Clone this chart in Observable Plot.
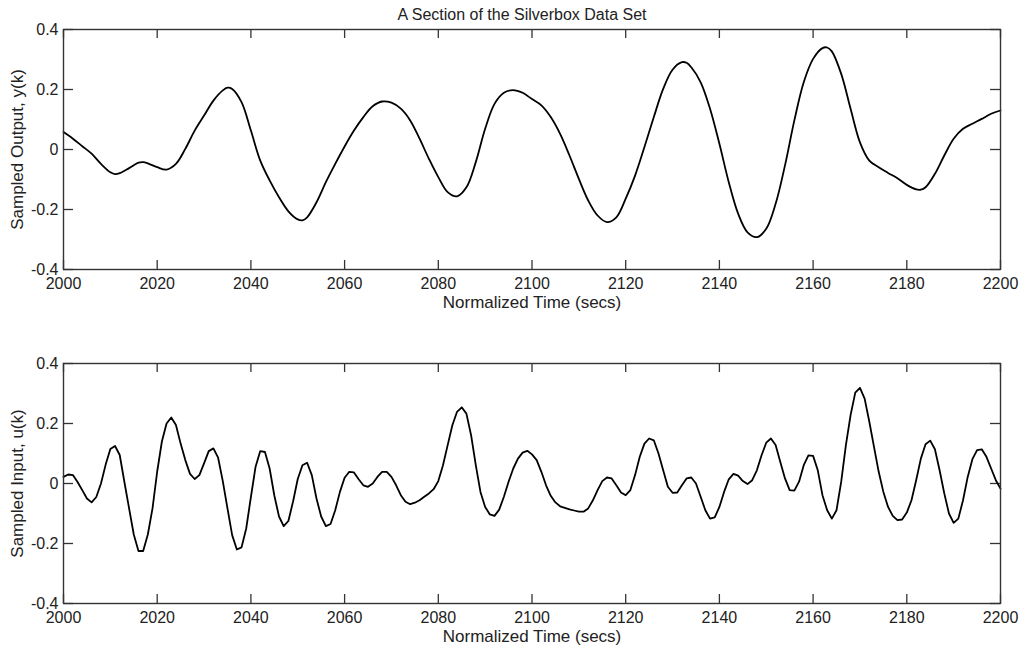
<!DOCTYPE html>
<html>
<head>
<meta charset="utf-8">
<script src="https://cdn.jsdelivr.net/npm/d3@7"></script>
<script src="https://cdn.jsdelivr.net/npm/@observablehq/plot@0.6"></script>
<style>
  html, body { margin: 0; padding: 0; background: #fff; }
  #wrap { position: relative; width: 1023px; height: 647px; overflow: hidden; font-family: "Liberation Sans", Arial, Helvetica, sans-serif; }
  #title { position: absolute; top: 4px; left: 222px; width: 600px; text-align: center; font-size: 16px; line-height: 22px; color: #222; }
  #top, #bottom { position: absolute; left: 0; }
  #top { top: 0; }
  #bottom { top: 345px; }
</style>
</head>
<body>
<div id="wrap">
  <div id="title"></div>
  <div id="top"></div>
  <div id="bottom"></div>
</div>
<script>
// ---- Data ----
const titleText = "A Section of the Silverbox Data Set";
const xLabel = "Normalized Time (secs)";
const yLabelTop = "Sampled Output, y(k)";
const yLabelBottom = "Sampled Input, u(k)";

const xTicks = [2000, 2020, 2040, 2060, 2080, 2100, 2120, 2140, 2160, 2180, 2200];
const yTicks = [-0.4, -0.2, 0, 0.2, 0.4];
const yTickLabels = ["-0.4", "-0.2", "0", "0.2", "0.4"];

// Output y(k) (smooth curve)
const outT = [2000,2002,2004,2006,2008,2010,2011,2012,2014,2016,2017,2018,2020,2022,2024,2026,2028,2030,2032,2034,2035,2036,2038,2040,
  2042,2044,2046,2048,2050,2051,2052,2054,2056,2058,2060,2062,2064,2066,2068,2070,2072,2074,2076,2078,2080,2082,2084,2086,2088,2090,
  2092,2094,2096,2098,2100,2102,2104,2106,2108,2110,2112,2114,2116,2118,2120,2122,2124,2126,2128,2130,2132,2133,2134,2136,2138,2140,
  2142,2144,2146,2148,2150,2152,2154,2156,2158,2160,2162,2163,2164,2166,2168,2170,2172,2174,2176,2178,2180,2182,2183,2184,2186,2188,
  2190,2192,2194,2196,2198,2200];
const outY = [0.058,0.036,0.011,-0.014,-0.048,-0.076,-0.082,-0.079,-0.062,-0.044,-0.042,-0.046,-0.059,-0.067,-0.048,0.002,0.063,0.113,0.163,0.197,0.206,0.202,0.158,0.063,
  -0.037,-0.103,-0.159,-0.206,-0.233,-0.236,-0.226,-0.176,-0.109,-0.048,0.010,0.063,0.108,0.144,0.160,0.156,0.136,0.097,0.036,-0.031,-0.092,-0.142,-0.156,-0.126,-0.042,0.069,
  0.152,0.189,0.198,0.189,0.168,0.147,0.108,0.052,-0.020,-0.098,-0.170,-0.220,-0.242,-0.226,-0.164,-0.087,0.008,0.108,0.202,0.266,0.291,0.289,0.274,0.224,0.136,0.019,
  -0.109,-0.214,-0.276,-0.292,-0.264,-0.181,-0.053,0.097,0.224,0.302,0.338,0.340,0.327,0.252,0.136,0.024,-0.037,-0.059,-0.078,-0.096,-0.118,-0.133,-0.134,-0.126,-0.081,-0.020,
  0.036,0.069,0.086,0.102,0.119,0.130];

// Input u(k), one sample per second from 2000 to 2200
const inStart = 2000;
const inU = [
  0.022, 0.030, 0.028, 0.005,-0.022,-0.050,-0.063,-0.045, 0.000, 0.063,
  0.115, 0.125, 0.095, 0.005,-0.083,-0.170,-0.225,-0.225,-0.170,-0.083,
  0.040, 0.140, 0.200, 0.220, 0.195, 0.133, 0.078, 0.032, 0.015, 0.028,
  0.067, 0.108, 0.117, 0.086, 0.008,-0.083,-0.172,-0.220,-0.213,-0.150,
 -0.045, 0.056, 0.108, 0.105, 0.050,-0.040,-0.110,-0.142,-0.125,-0.060,
  0.015, 0.061, 0.069, 0.028,-0.050,-0.110,-0.142,-0.135,-0.089,-0.028,
  0.019, 0.039, 0.037, 0.014,-0.006,-0.011, 0.000, 0.022, 0.039, 0.039,
  0.022,-0.006,-0.039,-0.061,-0.069,-0.064,-0.056,-0.044,-0.033,-0.019,
  0.008, 0.061, 0.128, 0.194, 0.239, 0.254, 0.233, 0.161, 0.061,-0.028,
 -0.078,-0.103,-0.108,-0.087,-0.044, 0.006, 0.050, 0.083, 0.103, 0.109,
  0.097, 0.078, 0.039,-0.006,-0.041,-0.063,-0.076,-0.081,-0.086,-0.090,
 -0.094,-0.094,-0.083,-0.056,-0.022, 0.008, 0.020, 0.017,-0.006,-0.030,
 -0.039,-0.022, 0.028, 0.089, 0.133, 0.150, 0.144, 0.100, 0.044,-0.011,
 -0.031,-0.030,-0.006, 0.017, 0.020, 0.000,-0.044,-0.089,-0.117,-0.113,
 -0.078,-0.028, 0.014, 0.032, 0.026, 0.008,-0.002, 0.011, 0.044, 0.094,
  0.136, 0.150, 0.128, 0.072, 0.017,-0.022,-0.024, 0.006, 0.061, 0.094,
  0.092, 0.044,-0.039,-0.089,-0.117,-0.089, 0.006, 0.128, 0.228, 0.303,
  0.319, 0.283, 0.206, 0.122, 0.039,-0.028,-0.078,-0.108,-0.122,-0.120,
 -0.097,-0.056, 0.011, 0.083, 0.131, 0.143, 0.114, 0.044,-0.033,-0.100,
 -0.131,-0.117,-0.056, 0.022, 0.081, 0.111, 0.114, 0.089, 0.050, 0.011,
 -0.017
];

// ---- Build ----
document.getElementById("title").textContent = titleText;
const outData = outT.map((t, i) => ({t, v: outY[i]}));
const inData = inU.map((v, i) => ({t: inStart + i, v}));
const yFmt = d => yTickLabels[yTicks.findIndex(y => Math.abs(y - d) < 1e-9)];

function panel(data, yLabel, curve, opts) {
  const W = 1023, mL = 63, mR = 23;
  const plotH = opts.height - opts.marginTop - opts.marginBottom;
  const plotW = W - mL - mR;
  return Plot.plot({
    width: W,
    height: opts.height,
    marginLeft: mL,
    marginRight: mR,
    marginTop: opts.marginTop,
    marginBottom: opts.marginBottom,
    style: {fontFamily: "'Liberation Sans', Arial, Helvetica, sans-serif", fontSize: "16px", color: "#222", background: "transparent", overflow: "visible"},
    x: {domain: [2000, 2200]},
    y: {domain: [-0.4, 0.4]},
    marks: [
      Plot.axisX({ticks: xTicks, tickSize: 0, tickPadding: 8, tickFormat: d => String(d), label: null, fontSize: 16}),
      Plot.axisY({ticks: yTicks, tickSize: 0, tickPadding: 5, tickFormat: yFmt, label: null, fontSize: 16}),
      Plot.tickX(xTicks, {x: d => d, insetTop: plotH - 9, stroke: "#333", strokeWidth: 1.3}),
      Plot.tickX(xTicks, {x: d => d, insetBottom: plotH - 9, stroke: "#333", strokeWidth: 1.3}),
      Plot.tickY(yTicks, {y: d => d, insetRight: plotW - 10, stroke: "#333", strokeWidth: 1.3}),
      Plot.tickY(yTicks, {y: d => d, insetLeft: plotW - 10, stroke: "#333", strokeWidth: 1.3}),
      Plot.lineY(data, {x: "t", y: "v", stroke: "#000", strokeWidth: 1.8, curve}),
      Plot.frame({stroke: "#333", strokeWidth: 1.4}),
      Plot.text([xLabel], {frameAnchor: "bottom", dy: 38, lineAnchor: "bottom", text: d => d, fontSize: 17, fill: "#222", textAnchor: "middle"}),
      Plot.text([yLabel], {frameAnchor: "left", dx: -46, rotate: -90, text: d => d, fontSize: 17, fill: "#222", textAnchor: "middle"})
    ]
  });
}

document.getElementById("top").appendChild(
  panel(outData, yLabelTop, "catmull-rom", {height: 323, marginTop: 29, marginBottom: 54})
);
document.getElementById("bottom").appendChild(
  panel(inData, yLabelBottom, "linear", {height: 302, marginTop: 18, marginBottom: 44})
);
</script>
</body>
</html>
